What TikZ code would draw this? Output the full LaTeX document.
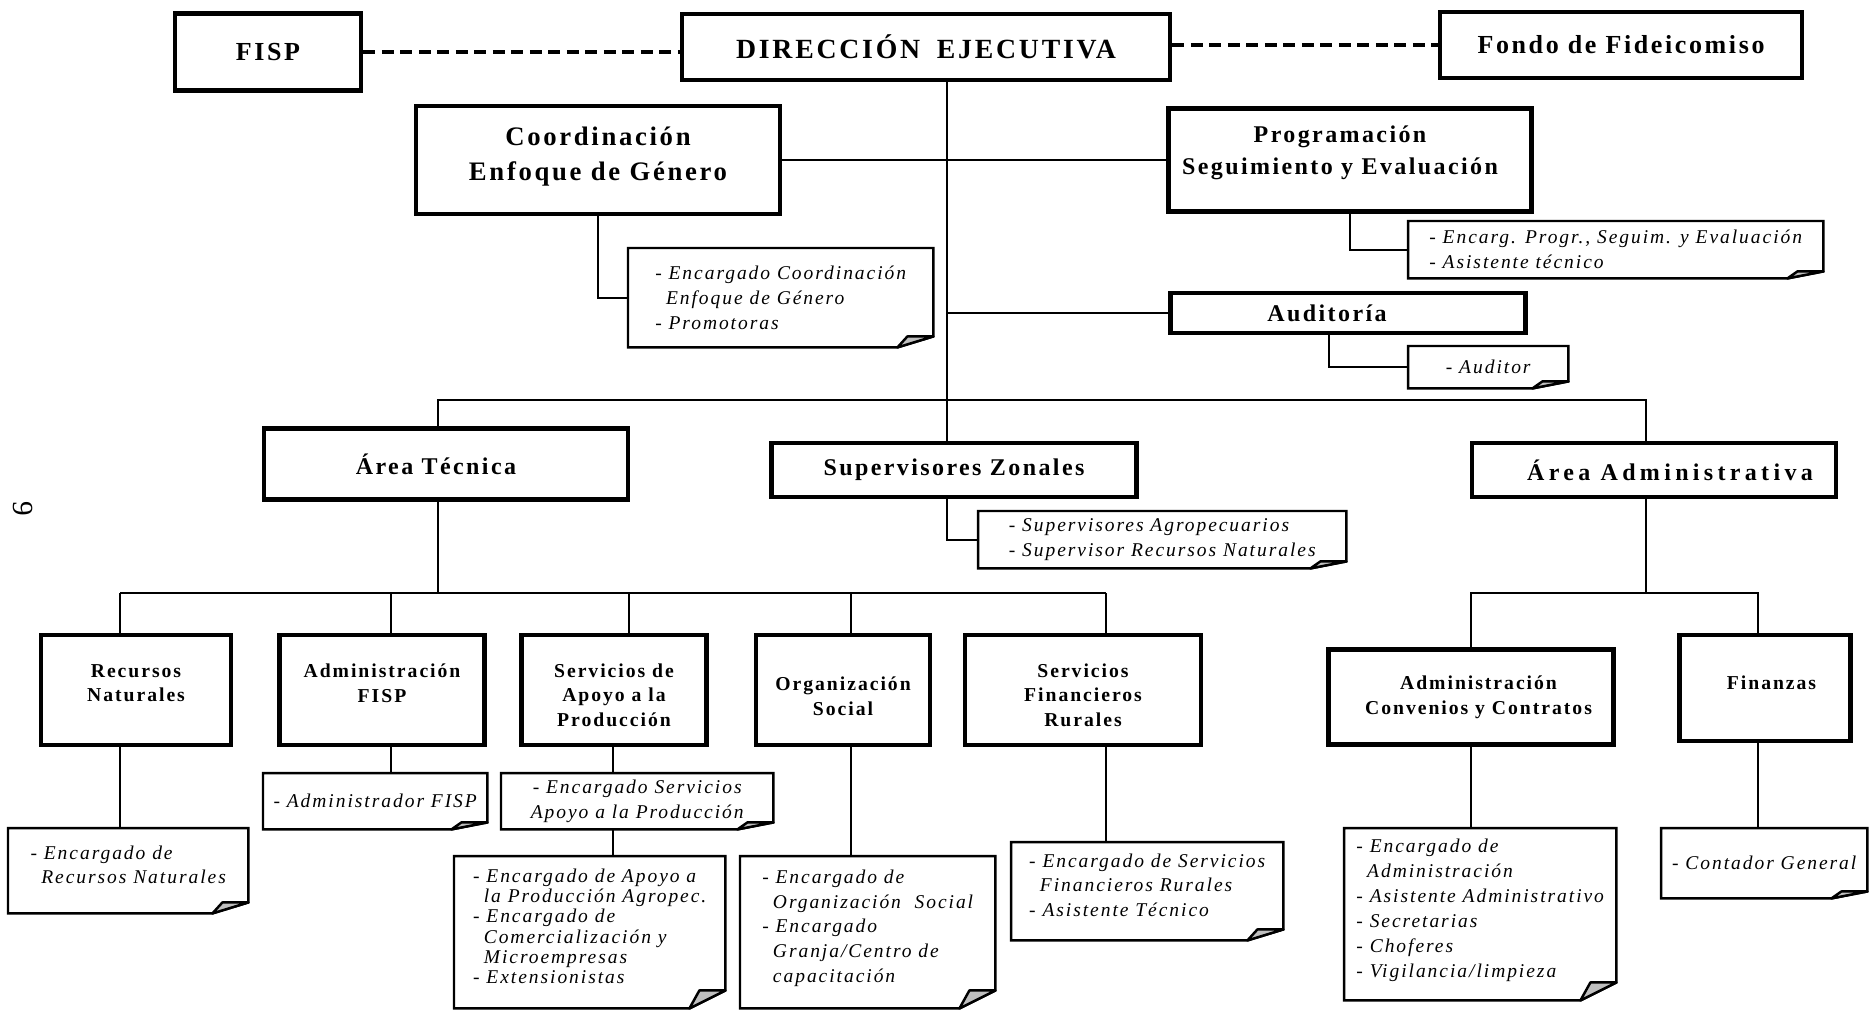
\documentclass[tikz,border=0pt]{standalone}
\usepackage{fontspec}
\setmainfont{Liberation Serif}[LetterSpace=10]

% nota con la esquina doblada
\newcommand{\notapliegue}[2][1.1]{%
	\draw[borde] (#2.north west) -- (#2.north east) -- ([yshift=#1mm]#2.south east)
		-- ([xshift=-3.6mm]#2.south east) -- (#2.south west) -- cycle;
	\draw[doblez] ([xshift=-3.6mm]#2.south east) -- ([xshift=-2.6mm,yshift=#1mm]#2.south east)
		-- ([yshift=#1mm]#2.south east) -- cycle;
}

\begin{document}
\begin{tikzpicture}[x=0.1mm, y=-0.1mm,
	caja/.style={draw, line width=1.4pt, align=center, inner sep=0pt},
	tamA/.style={font=\fontsize{7.4pt}{10pt}\selectfont\bfseries},
	tamB/.style={font=\fontsize{6.83pt}{9.1pt}\selectfont\bfseries},
	tamC/.style={font=\fontsize{5.6pt}{7pt}\selectfont\bfseries},
	nota/.style={anchor=north west, align=left, inner sep=0pt, font=\fontsize{5.55pt}{7.1pt}\selectfont\itshape},
	alta/.style={text depth=1.2mm},
	borde/.style={line width=0.7pt},
	doblez/.style={draw, fill=black!25, line width=0.7pt, line join=round},
	linea/.style={line width=0.6pt},
	punteada/.style={line width=0.9pt, dash pattern=on 1.2mm off 0.65mm}]

	\useasboundingbox (0,0) rectangle (1870,1009);

% direccion
	\node[caja, tamA, minimum width=18.6mm, minimum height=7.7mm] (fisp) at (268,52) {FISP};
	\node[caja, font=\fontsize{7.9pt}{10pt}\selectfont\bfseries, minimum width=48.8mm, minimum height=6.6mm] (dir) at (926,47) {DIRECCIÓN\hspace{0.6em}EJECUTIVA};
	\node[caja, tamA, minimum width=36.2mm, minimum height=6.6mm] (fondo) at (1621,45) {Fondo de Fideicomiso};
	\node[caja, font=\fontsize{7.6pt}{10pt}\selectfont\bfseries, minimum width=36.4mm, minimum height=10.8mm, text depth=1.2mm] (coord) at (598,160) {Coordinación\\Enfoque de Género};
	\node[caja, tamB, minimum width=36.3mm, minimum height=10.3mm, text depth=2mm] (prog) at (1350,160) {Programación\hspace*{2mm}\\Seguimiento y Evaluación\hspace*{2mm}};
	\node[caja, tamB, line width=1.2pt, minimum width=35.5mm, minimum height=4mm] (audit) at (1348,313) {Auditoría\hspace*{4.2mm}};

% areas
	\node[caja, tamB, minimum width=36.4mm, minimum height=7.1mm] (atec) at (446,464) {Área Técnica\hspace*{2mm}};
	\node[caja, tamB, minimum width=36.5mm, minimum height=5.4mm] (supz) at (954,470) {Supervisores Zonales};
	\node[caja, tamB, minimum width=36.4mm, minimum height=5.4mm] (aadm) at (1654,470) {\hspace*{3.2mm}\addfontfeatures{LetterSpace=18}Área Administrativa};

% unidades
	\node[caja, tamC, minimum width=19mm, minimum height=11mm, text depth=1.4mm] (rnat) at (136,690) {Recursos\\Naturales};
	\node[caja, tamC, minimum width=20.5mm, minimum height=11mm, text depth=1.4mm] (afisp) at (382,690) {Administración\\FISP};
	\node[caja, tamC, minimum width=18.5mm, minimum height=11mm] (sapo) at (614,690) {\rule{0pt}{2.4mm}Servicios de\\Apoyo a la\\Producción};
	\node[caja, tamC, minimum width=17.4mm, minimum height=11mm] (orgs) at (843,690) {\rule{0pt}{2.6mm}Organización\\Social};
	\node[caja, tamC, minimum width=23.6mm, minimum height=11mm] (sfin) at (1083,690) {\rule{0pt}{2.4mm}Servicios\\Financieros\\Rurales};
	\node[caja, tamC, minimum width=28.5mm, minimum height=9.5mm] (acc) at (1471,697) {\hspace*{1.5mm}Administración\\\hspace*{1.5mm}Convenios y Contratos};
	\node[caja, tamC, minimum width=17.1mm, minimum height=10.6mm, text depth=1mm] (fin) at (1765,688) {\hspace*{1.3mm}Finanzas};

% notas de personal
	\node[nota, minimum width=30.4mm, minimum height=9.8mm] (ncoord) at (628,248) {- Encargado Coordinación\\\hspace*{0.55em}Enfoque de Género\\- Promotoras};
	\node[nota, minimum width=41.4mm, minimum height=5.6mm] (nprog) at (1408,221) {- Encarg. Progr., Seguim. y Evaluación\\- Asistente técnico};
	\node[nota, minimum width=15.9mm, minimum height=4.1mm] (naud) at (1408,346) {- Auditor};
	\node[nota, minimum width=36.7mm, minimum height=5.6mm] (nsupz) at (978,511) {- Supervisores Agropecuarios\\- Supervisor Recursos Naturales};
	\node[nota, alta, minimum width=23.9mm, minimum height=8.4mm] (nrnat) at (8,828) {- Encargado de\\\hspace*{0.55em}Recursos Naturales};
	\node[nota, minimum width=22.3mm, minimum height=5.5mm] (nafisp) at (263,773) {- Administrador FISP};
	\node[nota, align=center, minimum width=27.1mm, minimum height=5.5mm] (nsapo1) at (501,773) {- Encargado Servicios\\Apoyo a la Producción};
	\node[nota, alta, font=\fontsize{5.55pt}{5.7pt}\selectfont\itshape, minimum width=27mm, minimum height=15.1mm] (nsapo2) at (454,856) {- Encargado de Apoyo a\\\hspace*{0.55em}la Producción Agropec.\\- Encargado de\\\hspace*{0.55em}Comercialización y\\\hspace*{0.55em}Microempresas\\- Extensionistas};
	\node[nota, alta, minimum width=25.4mm, minimum height=15.1mm] (norgs) at (740,856) {- Encargado de\\\hspace*{0.55em}Organización\ \ Social\\- Encargado\\\hspace*{0.55em}Granja/Centro de\\\hspace*{0.55em}capacitación};
	\node[nota, alta, minimum width=27.1mm, minimum height=9.7mm] (nsfin) at (1011,842) {- Encargado de Servicios\\\hspace*{0.55em}Financieros Rurales\\- Asistente Técnico};
	\node[nota, alta, minimum width=27.1mm, minimum height=17.1mm] (nacc) at (1344,828) {- Encargado de\\\hspace*{0.55em}Administración\\- Asistente Administrativo\\- Secretarias\\- Choferes\\- Vigilancia/limpieza};
	\node[nota, minimum width=20.5mm, minimum height=6.9mm] (nfin) at (1661,828) {- Contador General};

	\foreach \n in {nprog, naud, nsupz, nafisp, nsapo1, nfin}
		\notapliegue[0.7]{\n};
	\foreach \n in {ncoord, nrnat, nsfin}
		\notapliegue[1.1]{\n};
	\foreach \n in {nsapo2, norgs, nacc}
		\notapliegue[1.8]{\n};

	\node[rotate=-90, font=\fontsize{8.3pt}{8.3pt}\selectfont] (pag) at (23,509) {9};

% lineas de la direccion
	\draw[punteada] (fisp.east) -- (fisp.east -| dir.west);
	\draw[punteada] (dir.east |- fondo.west) -- (fondo.west);
	\coordinate (tr) at (947,400);
	\draw[linea] (dir.south -| tr) -- (supz.north -| tr);
	\draw[linea] (coord.east) -- (prog.west);
	\draw[linea] (tr |- audit.west) -- (audit.west);
	\draw[linea] (coord.south) |- (ncoord.west);
	\draw[linea] (prog.south) |- (nprog.west);
	\coordinate (caud) at (1329,340);
	\draw[linea] (audit.south -| caud) |- (naud.west);
	\draw[linea] (supz.south -| tr) |- (nsupz.west);

% barra de las areas
	\coordinate (b1i) at (438,400);
	\coordinate (b1d) at (1646,400);
	\draw[linea] (atec.north -| b1i) -- (b1i) -- (b1d) -- (aadm.north -| b1d);

% area tecnica
	\coordinate (b2) at (438,593);
	\draw[linea] (atec.south -| b2) -- (b2);
	\foreach \n/\x in {rnat/120, afisp/391, sapo/629, orgs/851, sfin/1106} {
		\coordinate (c\n) at (\x,593);
		\draw[linea] (c\n) -- (\n.north -| c\n);
	}
	\draw[linea] (crnat) -- (csfin);
	\foreach \n in {rnat, afisp, orgs, sfin}
		\draw[linea] (\n.south -| c\n) -- (n\n.north -| c\n);
	\coordinate (csap) at (613,800);
	\draw[linea] (sapo.south -| csap) -- (nsapo1.north -| csap);
	\draw[linea] (nsapo1.south -| csap) -- (nsapo2.north -| csap);

% area administrativa
	\coordinate (b3) at (1646,593);
	\coordinate (cacc) at (1471,593);
	\coordinate (cfin) at (1758,593);
	\draw[linea] (aadm.south -| b3) -- (b3);
	\draw[linea] (acc.north -| cacc) -- (cacc) -- (cfin) -- (fin.north -| cfin);
	\draw[linea] (acc.south -| cacc) -- (nacc.north -| cacc);
	\draw[linea] (fin.south -| cfin) -- (nfin.north -| cfin);
\end{tikzpicture}
\end{document}
